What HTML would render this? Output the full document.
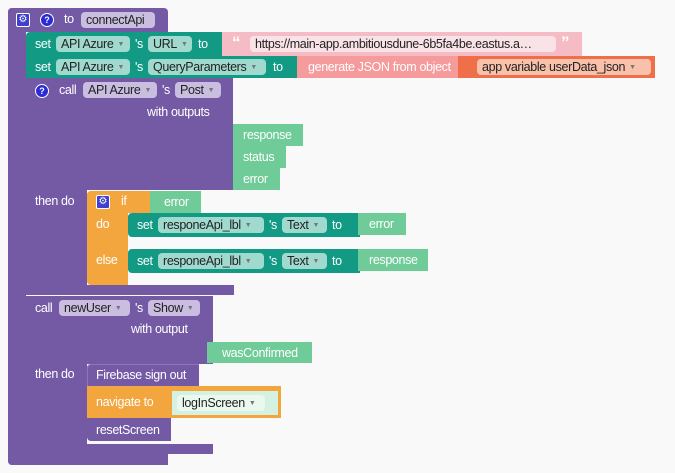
<!DOCTYPE html>
<html><head><meta charset="utf-8"><style>
body{margin:0;width:675px;height:473px;background:#f9f9f9;position:relative;overflow:hidden;font-family:"Liberation Sans",sans-serif;font-size:12.5px;letter-spacing:-0.35px;color:#fff}
.b{position:absolute}
.P{background:#7459a5}
.T{background:#129a84}
.G{background:#6fcb97}
.O{background:#f2a63d}
.t{position:absolute;white-space:nowrap;line-height:16px}
.f{position:absolute;height:16px;line-height:16px;border-radius:4px;padding:0 5px;color:#222;white-space:nowrap;box-sizing:border-box;overflow:hidden}
.fp{background:#c9bde0}
.ft{background:#a0d9cd}
.ic{position:absolute;width:12px;height:12px;border-radius:50%;background:#2b2bd6;border:1px solid #fff;font-size:9px;font-weight:bold;line-height:12px;text-align:center;letter-spacing:0}
.gear{position:absolute;width:12px;height:12px;border-radius:2px;background:#3f3fd0;border:1px solid #fff;font-size:10px;line-height:12px;text-align:center;letter-spacing:0}
.dd{font-size:7px;color:#777;margin-left:4px;vertical-align:middle}
</style></head><body>
<div class="b P" style="left:8px;top:8px;width:160px;height:24px;border-radius:4px 4px 0 0"></div>
<div class="b P" style="left:8px;top:8px;width:18px;height:457px;border-radius:4px 0 0 4px"></div>
<div class="b P" style="left:8px;top:448px;width:160px;height:17px;border-radius:0 0 0 4px"></div>
<div class="gear" style="left:16px;top:13px">⚙</div>
<div class="ic" style="left:40px;top:13px">?</div>
<div class="t" style="left:64px;top:11px">to</div>
<div class="f fp" style="left:81px;top:12px;width:74px">connectApi</div>

<div class="b T" style="left:26px;top:32px;width:200px;height:24px;border-radius:4px 4px 0 0"></div>
<div class="t" style="left:35px;top:36px">set</div>
<div class="f ft" style="left:56px;top:36px;width:74px">API Azure<span class="dd">▼</span></div>
<div class="t" style="left:135px;top:36px">'s</div>
<div class="f ft" style="left:148px;top:36px;width:44px">URL<span class="dd">▼</span></div>
<div class="t" style="left:198px;top:36px">to</div>
<div class="b" style="left:222px;top:32px;width:360px;height:24px;background:#f5bcc6"></div>
<div class="t" style="left:232px;top:35px;color:#fff;font-weight:bold;font-size:17px">“</div>
<div class="f" style="left:250px;top:36px;width:306px;background:#fae3e7">https://main-app.ambitiousdune-6b5fa4be.eastus.a…</div>
<div class="t" style="left:561px;top:35px;font-weight:bold;font-size:17px">”</div>

<div class="b T" style="left:26px;top:56px;width:274px;height:22px"></div>
<div class="t" style="left:35px;top:59px">set</div>
<div class="f ft" style="left:56px;top:59px;width:74px">API Azure<span class="dd">▼</span></div>
<div class="t" style="left:135px;top:59px">'s</div>
<div class="f ft" style="left:148px;top:59px;width:118px">QueryParameters<span class="dd">▼</span></div>
<div class="t" style="left:273px;top:59px">to</div>
<div class="b" style="left:297px;top:56px;width:164px;height:22px;background:#f59b9c"></div>
<div class="t" style="left:308px;top:59px">generate JSON from object</div>
<div class="b" style="left:458px;top:56px;width:197px;height:22px;background:#ee6f49"></div>
<div class="f" style="left:477px;top:59px;width:174px;background:#f9c0aa">app variable userData_json<span class="dd">▼</span></div>

<div class="b P" style="left:26px;top:78px;width:207px;height:112px"></div>
<div class="b P" style="left:26px;top:78px;width:61px;height:217px"></div>
<div class="b P" style="left:26px;top:285px;width:208px;height:10px"></div>
<div class="ic" style="left:35px;top:84px">?</div>
<div class="t" style="left:59px;top:82px">call</div>
<div class="f fp" style="left:83px;top:82px;width:74px">API Azure<span class="dd">▼</span></div>
<div class="t" style="left:162px;top:82px">'s</div>
<div class="f fp" style="left:175px;top:82px;width:46px">Post<span class="dd">▼</span></div>
<div class="t" style="left:147px;top:104px">with outputs</div>
<div class="b G" style="left:233px;top:124px;width:70px;height:22px"></div>
<div class="t" style="left:243px;top:127px">response</div>
<div class="b G" style="left:233px;top:146px;width:53px;height:22px"></div>
<div class="t" style="left:243px;top:149px">status</div>
<div class="b G" style="left:233px;top:168px;width:47px;height:22px"></div>
<div class="t" style="left:243px;top:171px">error</div>
<div class="t" style="left:35px;top:193px">then do</div>

<div class="b O" style="left:87px;top:191px;width:68px;height:22px;border-radius:4px 4px 0 0"></div>
<div class="b O" style="left:87px;top:191px;width:41px;height:94px;border-radius:4px 0 0 4px"></div>
<div class="gear" style="left:96px;top:195px">⚙</div>
<div class="t" style="left:121px;top:193px">if</div>
<div class="b G" style="left:150px;top:191px;width:51px;height:22px"></div>
<div class="t" style="left:164px;top:194px">error</div>
<div class="t" style="left:96px;top:216px">do</div>
<div class="t" style="left:96px;top:252px">else</div>

<div class="b T" style="left:128px;top:213px;width:232px;height:24px;border-radius:4px 0 0 4px"></div>
<div class="t" style="left:137px;top:217px">set</div>
<div class="f ft" style="left:158px;top:217px;width:106px">responeApi_lbl<span class="dd">▼</span></div>
<div class="t" style="left:269px;top:217px">'s</div>
<div class="f ft" style="left:282px;top:217px;width:45px">Text<span class="dd">▼</span></div>
<div class="t" style="left:332px;top:217px">to</div>
<div class="b G" style="left:358px;top:213px;width:48px;height:22px"></div>
<div class="t" style="left:369px;top:216px">error</div>

<div class="b T" style="left:128px;top:249px;width:232px;height:24px;border-radius:4px 0 0 4px"></div>
<div class="t" style="left:137px;top:253px">set</div>
<div class="f ft" style="left:158px;top:253px;width:106px">responeApi_lbl<span class="dd">▼</span></div>
<div class="t" style="left:269px;top:253px">'s</div>
<div class="f ft" style="left:282px;top:253px;width:45px">Text<span class="dd">▼</span></div>
<div class="t" style="left:332px;top:253px">to</div>
<div class="b G" style="left:358px;top:249px;width:70px;height:22px"></div>
<div class="t" style="left:369px;top:252px">response</div>

<div class="b P" style="left:26px;top:296px;width:187px;height:68px"></div>
<div class="b P" style="left:26px;top:296px;width:61px;height:158px;border-radius:0 0 0 4px"></div>
<div class="b P" style="left:26px;top:444px;width:187px;height:10px"></div>
<div class="t" style="left:35px;top:300px">call</div>
<div class="f fp" style="left:59px;top:300px;width:71px">newUser<span class="dd">▼</span></div>
<div class="t" style="left:135px;top:300px">'s</div>
<div class="f fp" style="left:148px;top:300px;width:52px">Show<span class="dd">▼</span></div>
<div class="t" style="left:131px;top:321px">with output</div>
<div class="b G" style="left:207px;top:342px;width:105px;height:21px"></div>
<div class="t" style="left:222px;top:345px">wasConfirmed</div>
<div class="t" style="left:35px;top:366px">then do</div>

<div class="b P" style="left:87px;top:364px;width:112px;height:22px;border-radius:4px 0 0 0;box-shadow:inset 1px 1px 0 #8d76b8"></div>
<div class="t" style="left:96px;top:367px">Firebase sign out</div>
<div class="b O" style="left:87px;top:386px;width:194px;height:32px"></div>
<div class="t" style="left:96px;top:394px">navigate to</div>
<div class="b" style="left:172px;top:391px;width:106px;height:24px;background:#d5f1e2"></div>
<div class="f" style="left:177px;top:395px;width:88px;background:#eaf8f0">logInScreen<span class="dd">▼</span></div>
<div class="b P" style="left:87px;top:418px;width:84px;height:23px;border-radius:0 0 0 4px"></div>
<div class="t" style="left:96px;top:422px">resetScreen</div>
</body></html>
